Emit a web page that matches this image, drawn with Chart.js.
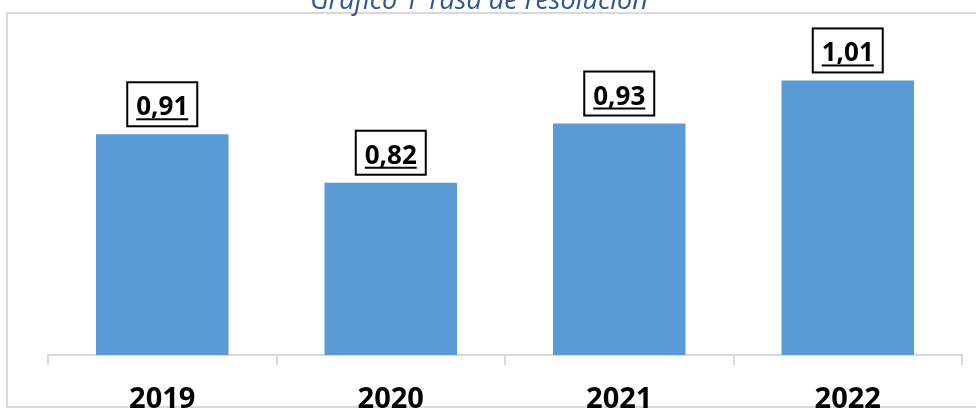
<!DOCTYPE html>
<html>
<head>
<meta charset="utf-8">
<script src="https://cdn.jsdelivr.net/npm/chart.js@4"></script>
<style>
  html, body { margin: 0; padding: 0; background: #fff; }
  #wrap { width: 976px; height: 408px; position: relative; }
</style>
</head>
<body>
<div id="wrap"><canvas id="tasa" width="976" height="408"></canvas></div>
<script>
// datos del gráfico
var years = ["2019", "2020", "2021", "2022"];
var tasa = [0.91, 0.82, 0.93, 1.01];
var tasaLabels = ["0,91", "0,82", "0,93", "1,01"];
var titulo = "Gráfico 1 Tasa de resolución";

// marco gris, título y etiquetas con recuadro
var decoPlugin = {
  id: "deco",
  beforeDraw: function (chart) {
    var c = chart.ctx;
    c.save();
    c.fillStyle = "#fff";
    c.fillRect(0, 0, chart.width, chart.height);
    c.strokeStyle = "#d9d9d9";
    c.lineWidth = 2;
    c.beginPath();
    c.moveTo(7, 408);
    c.lineTo(7, 13);
    c.lineTo(976, 13);
    c.moveTo(7, 407);
    c.lineTo(976, 407);
    c.stroke();
    // título (cortado arriba como en el original)
    c.font = "italic 27px 'Open Sans'";
    c.fillStyle = "#2f5597";
    c.textAlign = "center";
    c.textBaseline = "alphabetic";
    c.fillText(titulo, 479, 9);
    c.restore();
  },
  afterDatasetsDraw: function (chart) {
    var c = chart.ctx;
    var meta = chart.getDatasetMeta(0);
    c.save();
    c.font = "bold 26px 'Open Sans'";
    c.textAlign = "center";
    c.textBaseline = "alphabetic";
    meta.data.forEach(function (bar, i) {
      var txt = tasaLabels[i];
      var w = 70, h = 44;
      var bottom = bar.y - 8;
      var top = bottom - h;
      c.fillStyle = "#fff";
      c.fillRect(bar.x - w / 2, top, w, h);
      c.strokeStyle = "#000";
      c.lineWidth = 2;
      c.strokeRect(bar.x - w / 2, top, w, h);
      c.fillStyle = "#000";
      var base = top + 33;
      c.fillText(txt, bar.x, base);
      var tw = c.measureText(txt).width;
      c.fillRect(bar.x - tw / 2, base + 3, tw, 2);
    });
    c.restore();
  }
};

var ctx = document.getElementById("tasa").getContext("2d");
var chart = new Chart(ctx, {
  type: "bar",
  data: {
    labels: years,
    datasets: [
      {
        label: "Tasa de resolución",
        data: tasa,
        backgroundColor: "#5b9bd5",
        borderWidth: 0,
        barPercentage: 0.58,
        categoryPercentage: 1.0
      }
    ]
  },
  options: {
    responsive: false,
    animation: false,
    layout: { padding: { left: 48, right: 14, top: 32, bottom: 0 } },
    plugins: {
      legend: { display: false },
      tooltip: { enabled: false }
    },
    scales: {
      x: {
        grid: {
          display: true,
          drawOnChartArea: false,
          drawTicks: true,
          tickLength: 10,
          color: "#d9d9d9",
          lineWidth: 2,
          offset: true
        },
        border: { display: true, color: "#d9d9d9", width: 2 },
        ticks: {
          color: "#000",
          font: { family: "'Open Sans'", size: 29, weight: "bold" },
          padding: 17
        },
        afterFit: function (s) { s.height = 53; }
      },
      y: {
        display: false,
        min: 0.5,
        max: 1.1
      }
    }
  },
  plugins: [decoPlugin]
});
</script>
</body>
</html>
